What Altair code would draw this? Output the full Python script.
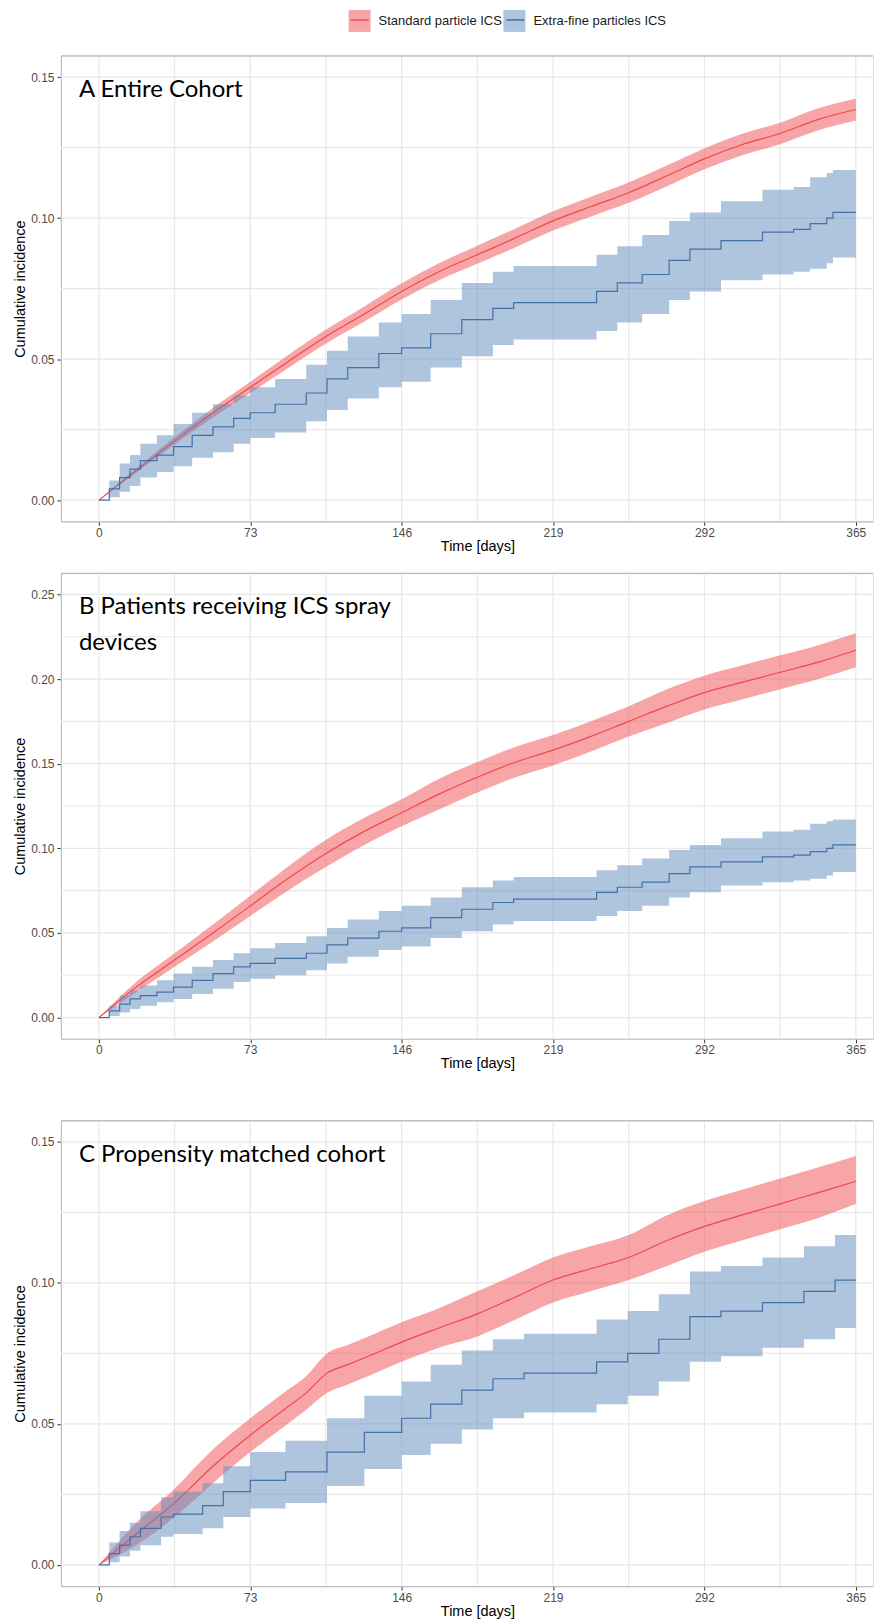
import altair as alt
import pandas as pd

SERIES = ["Standard particle ICS", "Extra-fine particles ICS"]
RED_LINE = "#F0474C"
RED_FILL = "#F24B51"
BLUE_LINE = "#4470AA"
BLUE_FILL = "#5E8BBB"
FRAME = "#BDBDBD"
GRID = "#E8E8E8"
FONT = "Liberation Sans"

X_MAJOR = [0, 73, 146, 219, 292, 365]
X_MINOR = [36.5, 109.5, 182.5, 255.5, 328.5]

# ---------- Panel A: entire cohort ----------
A_TITLE = ["A Entire Cohort"]
A_Y_MAJOR = [0.0, 0.05, 0.10, 0.15]
A_Y_MINOR = [0.025, 0.075, 0.125]
A_STD_DAY = [0, 18, 36.5, 55, 73, 91, 109.5, 128, 146, 164, 182.5, 201, 219, 237, 255.5, 274, 292, 310, 328.5, 347, 365]
A_STD_EST = [0, 0.0105, 0.021, 0.031, 0.040, 0.049, 0.058, 0.066, 0.074, 0.081, 0.087, 0.093, 0.099, 0.104, 0.109, 0.115, 0.121, 0.126, 0.130, 0.135, 0.1385]
A_STD_LO = [0, 0.0097, 0.0197, 0.0293, 0.038, 0.0467, 0.0555, 0.0633, 0.0711, 0.078, 0.0838, 0.0897, 0.0956, 0.1005, 0.1054, 0.1113, 0.1173, 0.1222, 0.1262, 0.1311, 0.1346]
A_STD_HI = [0, 0.0113, 0.0223, 0.0327, 0.042, 0.0513, 0.0605, 0.0687, 0.0769, 0.084, 0.0902, 0.0963, 0.1024, 0.1075, 0.1126, 0.1187, 0.1247, 0.1298, 0.1338, 0.1389, 0.1424]
A_XF_DAY = [0, 5, 10, 15, 20, 28, 36, 45, 55, 65, 73, 85, 100, 110, 120, 135, 146, 160, 175, 190, 200, 230, 240, 250, 262, 275, 285, 300, 320, 335, 343, 351, 354, 365]
A_XF_EST = [0, 0.004, 0.008, 0.011, 0.014, 0.016, 0.019, 0.023, 0.026, 0.029, 0.031, 0.034, 0.038, 0.043, 0.047, 0.052, 0.054, 0.059, 0.064, 0.068, 0.070, 0.070, 0.074, 0.077, 0.080, 0.085, 0.089, 0.092, 0.095, 0.096, 0.098, 0.100, 0.102, 0.102]
A_XF_LO = [0, 0.001, 0.003, 0.005, 0.008, 0.010, 0.012, 0.015, 0.017, 0.020, 0.022, 0.024, 0.028, 0.032, 0.036, 0.040, 0.042, 0.047, 0.051, 0.055, 0.057, 0.057, 0.060, 0.063, 0.066, 0.071, 0.074, 0.078, 0.080, 0.081, 0.082, 0.084, 0.086, 0.086]
A_XF_HI = [0, 0.007, 0.013, 0.016, 0.020, 0.023, 0.027, 0.031, 0.034, 0.037, 0.040, 0.043, 0.048, 0.053, 0.058, 0.063, 0.066, 0.071, 0.077, 0.081, 0.083, 0.083, 0.087, 0.090, 0.094, 0.099, 0.102, 0.106, 0.110, 0.111, 0.1145, 0.116, 0.117, 0.117]

# ---------- Panel B: ICS spray devices ----------
B_TITLE = ["B Patients receiving ICS spray", "devices"]
B_Y_MAJOR = [0.0, 0.05, 0.10, 0.15, 0.20, 0.25]
B_Y_MINOR = [0.025, 0.075, 0.125, 0.175, 0.225]
B_STD_DAY = [0, 18, 36.5, 55, 73, 91, 109.5, 128, 146, 164, 182.5, 201, 219, 237, 255.5, 274, 292, 310, 328.5, 347, 365]
B_STD_EST = [0, 0.018, 0.034, 0.050, 0.066, 0.082, 0.097, 0.110, 0.121, 0.132, 0.142, 0.151, 0.158, 0.166, 0.175, 0.184, 0.192, 0.198, 0.204, 0.210, 0.217]
B_STD_LO = [0, 0.015, 0.030, 0.045, 0.060, 0.075, 0.089, 0.102, 0.113, 0.123, 0.133, 0.142, 0.149, 0.157, 0.166, 0.174, 0.182, 0.188, 0.194, 0.200, 0.207]
B_STD_HI = [0, 0.021, 0.038, 0.055, 0.072, 0.089, 0.105, 0.118, 0.129, 0.141, 0.151, 0.160, 0.167, 0.175, 0.184, 0.194, 0.202, 0.208, 0.214, 0.220, 0.227]
B_XF_DAY = [0, 5, 10, 15, 20, 28, 36, 45, 55, 65, 73, 85, 100, 110, 120, 135, 146, 160, 175, 190, 200, 230, 240, 250, 262, 275, 285, 300, 320, 335, 343, 351, 354, 365]
B_XF_EST = [0, 0.004, 0.008, 0.011, 0.013, 0.015, 0.018, 0.022, 0.026, 0.030, 0.032, 0.035, 0.038, 0.043, 0.047, 0.051, 0.053, 0.059, 0.064, 0.068, 0.070, 0.070, 0.074, 0.077, 0.080, 0.085, 0.089, 0.092, 0.095, 0.096, 0.098, 0.100, 0.102, 0.102]
B_XF_LO = [0, 0.001, 0.003, 0.005, 0.007, 0.009, 0.011, 0.014, 0.017, 0.021, 0.023, 0.025, 0.028, 0.032, 0.036, 0.040, 0.042, 0.047, 0.051, 0.055, 0.057, 0.057, 0.060, 0.063, 0.066, 0.071, 0.074, 0.078, 0.080, 0.081, 0.082, 0.084, 0.086, 0.086]
B_XF_HI = [0, 0.007, 0.013, 0.016, 0.019, 0.022, 0.026, 0.030, 0.034, 0.038, 0.041, 0.044, 0.048, 0.053, 0.058, 0.063, 0.066, 0.071, 0.077, 0.081, 0.083, 0.083, 0.087, 0.090, 0.094, 0.099, 0.102, 0.106, 0.110, 0.111, 0.1145, 0.116, 0.117, 0.117]

# ---------- Panel C: propensity matched cohort ----------
C_TITLE = ["C Propensity matched cohort"]
C_Y_MAJOR = [0.0, 0.05, 0.10, 0.15]
C_Y_MINOR = [0.025, 0.075, 0.125]
C_STD_DAY = [0, 18, 36.5, 55, 73, 91, 100, 110, 120, 130, 146, 164, 182.5, 201, 219, 237, 255.5, 274, 292, 310, 328.5, 347, 365]
C_STD_EST = [0, 0.011, 0.022, 0.035, 0.046, 0.056, 0.061, 0.068, 0.071, 0.074, 0.079, 0.084, 0.089, 0.095, 0.101, 0.105, 0.109, 0.115, 0.120, 0.124, 0.128, 0.132, 0.136]
C_STD_LO = [0, 0.007, 0.017, 0.029, 0.040, 0.050, 0.055, 0.061, 0.064, 0.067, 0.072, 0.077, 0.081, 0.087, 0.093, 0.097, 0.101, 0.106, 0.111, 0.115, 0.119, 0.123, 0.128]
C_STD_HI = [0, 0.015, 0.027, 0.041, 0.052, 0.062, 0.067, 0.075, 0.078, 0.081, 0.086, 0.091, 0.097, 0.103, 0.109, 0.113, 0.117, 0.124, 0.129, 0.133, 0.137, 0.141, 0.145]
C_XF_DAY = [0, 5, 10, 15, 20, 30, 36, 50, 60, 73, 90, 110, 128, 146, 160, 175, 190, 205, 225, 240, 255, 270, 285, 300, 320, 340, 355, 365]
C_XF_EST = [0, 0.004, 0.007, 0.010, 0.013, 0.017, 0.018, 0.021, 0.026, 0.030, 0.033, 0.040, 0.047, 0.052, 0.057, 0.062, 0.066, 0.068, 0.068, 0.072, 0.075, 0.080, 0.088, 0.090, 0.093, 0.097, 0.101, 0.101]
C_XF_LO = [0, 0.001, 0.003, 0.005, 0.007, 0.010, 0.011, 0.013, 0.017, 0.020, 0.022, 0.028, 0.034, 0.039, 0.043, 0.048, 0.052, 0.054, 0.054, 0.057, 0.060, 0.065, 0.072, 0.074, 0.077, 0.080, 0.084, 0.084]
C_XF_HI = [0, 0.008, 0.012, 0.015, 0.019, 0.024, 0.026, 0.029, 0.035, 0.040, 0.044, 0.052, 0.060, 0.065, 0.071, 0.076, 0.080, 0.082, 0.082, 0.087, 0.090, 0.096, 0.104, 0.106, 0.109, 0.113, 0.117, 0.117]

# ---------- layout ----------
W = 813
H = 466
X_DOMAIN = [-18.3, 373.3]

LEG_X = 288
LEG_Y = -46

fill_legend = alt.Legend(
    orient="none", legendX=LEG_X, legendY=LEG_Y, direction="horizontal", title=None,
    symbolType="square", symbolSize=484, symbolOpacity=0.5, symbolStrokeWidth=0,
    labelFont=FONT, labelFontSize=13, labelColor="#1A1A1A", labelOffset=8,
    columnPadding=1, padding=0, labelLimit=400, values=SERIES,
)
stroke_legend = alt.Legend(
    orient="none", legendX=LEG_X + 1, legendY=LEG_Y, direction="horizontal", title=None,
    symbolType="stroke", symbolSize=324, symbolStrokeWidth=1.5,
    labelFont=FONT, labelFontSize=13, labelOpacity=0, labelOffset=9,
    columnPadding=1, padding=0, labelLimit=400, values=SERIES,
)
fill_scale = alt.Scale(domain=SERIES, range=[RED_FILL, BLUE_FILL])
stroke_scale = alt.Scale(domain=[SERIES[1], SERIES[0]], range=[BLUE_LINE, RED_LINE])


def sdf(day, est, lo, hi, name):
    return pd.DataFrame({"day": day, "est": est, "lo": lo, "hi": hi, "grp": name, "grp2": name})


def panel(std, xf, y_major, y_minor, y_dom, title_lines, spacer=0.0):
    xs = alt.Scale(domain=X_DOMAIN, nice=False, zero=False)
    ys = alt.Scale(domain=y_dom, nice=False, zero=False)
    xaxis = alt.Axis(
        values=X_MAJOR, title="Time [days]", grid=False, tickSize=4, tickColor="#333333",
        domainColor=FRAME, domainWidth=1.2, labelColor="#4D4D4D", labelFont=FONT,
        labelFontSize=12, labelPadding=2, titleFont=FONT, titleFontSize=14.5,
        titleFontWeight="normal", titleColor="#000000", titlePadding=1,
        labelFlush=False, labelOverlap=False, titleX=417,
    )
    yaxis = alt.Axis(
        values=y_major, format=".2f", title="Cumulative incidence", grid=False, tickSize=4,
        tickColor="#333333", domainColor=FRAME, domainWidth=1.2, labelColor="#4D4D4D",
        labelFont=FONT, labelFontSize=12, labelPadding=3, titleFont=FONT,
        titleFontSize=14.5, titleFontWeight="normal", titleColor="#000000", titlePadding=3,
        labelFlush=False, labelOverlap=False,
    )
    X = lambda f: alt.X(f, scale=xs, axis=xaxis)
    Y = lambda f: alt.Y(f, scale=ys, axis=yaxis)

    vgrid = alt.Chart(pd.DataFrame({"day": X_MAJOR + X_MINOR})).mark_rule(
        color=GRID, strokeWidth=1.2).encode(x=X("day:Q"))
    hgrid = alt.Chart(pd.DataFrame({"est": y_major + y_minor})).mark_rule(
        color=GRID, strokeWidth=1.2).encode(y=Y("est:Q"))
    top = alt.Chart(pd.DataFrame({"k": [0]})).mark_rule(color=FRAME, strokeWidth=1.2).encode(
        x=alt.value(0), x2=alt.value(W), y=alt.value(0))

    s = sdf(*std, SERIES[0])
    b = sdf(*xf, SERIES[1])

    def band(df, interp):
        return alt.Chart(df).mark_area(opacity=0.5, interpolate=interp).encode(
            x=X("day:Q"), y=Y("hi:Q"), y2="lo:Q",
            fill=alt.Fill("grp:N", scale=fill_scale, legend=fill_legend),
        )

    def line(df, interp):
        return alt.Chart(df).mark_line(strokeWidth=1.2, interpolate=interp).encode(
            x=X("day:Q"), y=Y("est:Q"),
            stroke=alt.Stroke("grp2:N", scale=stroke_scale, legend=stroke_legend),
        )

    label = alt.Chart(pd.DataFrame({"t": ["\n".join(title_lines)]})).mark_text(
        align="left", baseline="alphabetic", font="Lato", fontSize=24, color="#000000",
        lineBreak="\n", lineHeight=36,
    ).encode(x=alt.value(18), y=alt.value(41), text="t:N")

    layers = [vgrid, hgrid, top, band(s, "monotone"), line(s, "monotone"),
              band(b, "step-after"), line(b, "step-after"), label]
    if spacer:
        layers.append(alt.Chart(pd.DataFrame({"k": [0]})).mark_rule(strokeOpacity=0).encode(
            x=alt.value(0), y=alt.value(-spacer), y2=alt.value(0)))
    return alt.layer(*layers).properties(width=W, height=H)


pA = panel((A_STD_DAY, A_STD_EST, A_STD_LO, A_STD_HI), (A_XF_DAY, A_XF_EST, A_XF_LO, A_XF_HI),
           A_Y_MAJOR, A_Y_MINOR, [-0.0075, 0.1575], A_TITLE)
pB = panel((B_STD_DAY, B_STD_EST, B_STD_LO, B_STD_HI), (B_XF_DAY, B_XF_EST, B_XF_LO, B_XF_HI),
           B_Y_MAJOR, B_Y_MINOR, [-0.0125, 0.2625], B_TITLE)
pC = panel((C_STD_DAY, C_STD_EST, C_STD_LO, C_STD_HI), (C_XF_DAY, C_XF_EST, C_XF_LO, C_XF_HI),
           C_Y_MAJOR, C_Y_MINOR, [-0.0075, 0.1575], C_TITLE, spacer=31)

chart = alt.vconcat(pA, pB, pC, spacing=18).properties(
    padding={"left": 4, "top": 1, "right": 0, "bottom": 0}
).configure_view(stroke=None).configure(background="white")

chart.save("out.html", embed_options={"renderer": "svg", "actions": False})
